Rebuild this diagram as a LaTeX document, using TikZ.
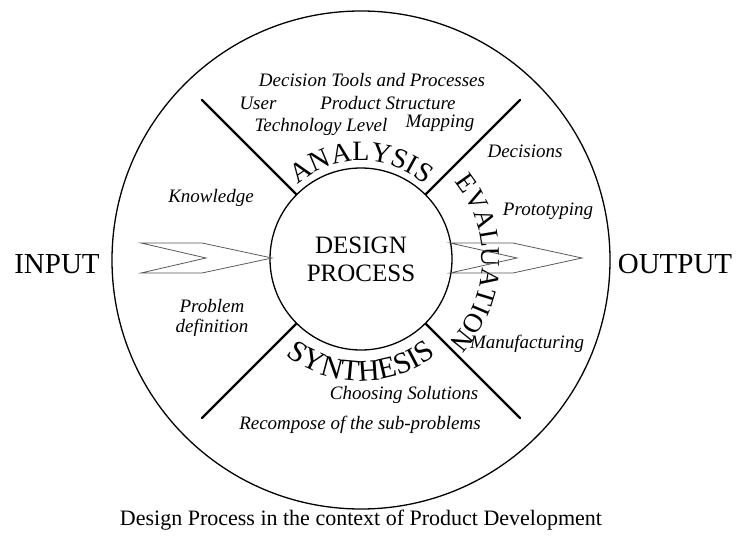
\documentclass[tikz,border=0pt]{standalone}
\usepackage{fontspec}
\setmainfont{Liberation Serif}
\usetikzlibrary{decorations.text}

\begin{document}
\begin{tikzpicture}[x = 1pt, y = 1pt,
        spoke/.style = {line width = 2.4pt, line cap = round},
        chevron/.style = {draw = black!65, line width = 0.8pt},
        topic/.style = {font = \fontsize{19}{20}\selectfont\itshape},
        bigword/.style = {font = \fontsize{29}{29}\selectfont}]

    \useasboundingbox (0, 0) rectangle (736, -540);

    % Outer boundary
    \draw [line width = 1.3pt] (361, -260) circle [radius = 249pt];

    % Core
    \node (core) [draw, circle, line width = 1.3pt, minimum size = 182pt, inner sep = 0pt,
        align = center, font = \fontsize{25}{28}\selectfont] at (361, -259) {DESIGN\\PROCESS};

    % Spokes
    \coordinate (spokeNE) at (520, -100);
    \coordinate (spokeNW) at (202, -100);
    \coordinate (spokeSW) at (202, -418);
    \coordinate (spokeSE) at (520, -418);
    \draw [spoke] (core.45) -- (spokeNE);
    \draw [spoke] (core.135) -- (spokeNW);
    \draw [spoke] (core.225) -- (spokeSW);
    \draw [spoke] (core.315) -- (spokeSE);

    %% Phases written round the core
    \path [decorate, decoration = {text along path, text align = center,
            text = {|\fontsize{28}{28}\selectfont|ANALYSIS}}]
        (361, -259) ++(140:98pt) arc [start angle = 140, end angle = 40, radius = 98pt];
    \path [decorate, decoration = {text along path, text align = center,
            text = {|\fontsize{27}{27}\selectfont|EVALUATION}}]
        (361, -259) ++(53:121pt) arc [start angle = 53, end angle = -57, radius = 121pt];
    \path [decorate, decoration = {text along path, text align = center,
            text = {|\fontsize{30}{30}\selectfont|SYNTHESIS}}]
        (361, -259) ++(-135:122pt) arc [start angle = -135, end angle = -45, radius = 122pt];

    % Input and output
    \node (input) [bigword] at (57, -264) {INPUT};
    \node (output) [bigword] at (675, -264) {OUTPUT};
    \draw [chevron] (141, -243) -- (202, -243) -- (272, -258) -- (202, -273)
        -- (141, -273) -- (206, -258) -- cycle;
    \draw [chevron] (450, -243) -- (513, -243) -- (582, -258) -- (513, -273)
        -- (450, -273) -- (517, -258) -- cycle;

    %% Analysis side
    \node (tools) [topic] at (372, -80) {Decision Tools and Processes};
    \node (user) [topic] at (258, -103) {User};
    \node (structure) [topic] at (388, -103) {Product Structure};
    \node (technology) [topic] at (321, -127) {Technology Level};
    \node (mapping) [topic] at (440, -123) {Mapping};

    %% Evaluation side
    \node (decisions) [topic] at (525, -151) {Decisions};
    \node (prototyping) [topic] at (548, -211) {Prototyping};
    \node (manufacturing) [topic] at (527, -344) {Manufacturing};

    %% Input side
    \node (knowledge) [topic] at (211, -198) {Knowledge};
    \node (problem) [topic, align = center] at (212, -318) {Problem\\definition};

    %% Synthesis side
    \node (choosing) [topic] at (404, -395) {Choosing Solutions};
    \node (recompose) [topic] at (360, -425) {Recompose of the sub-problems};

    % Caption
    \node (caption) [anchor = base, font = \fontsize{22}{22}\selectfont] at (361, -525)
        {Design Process in the context of Product Development};

\end{tikzpicture}
\end{document}
